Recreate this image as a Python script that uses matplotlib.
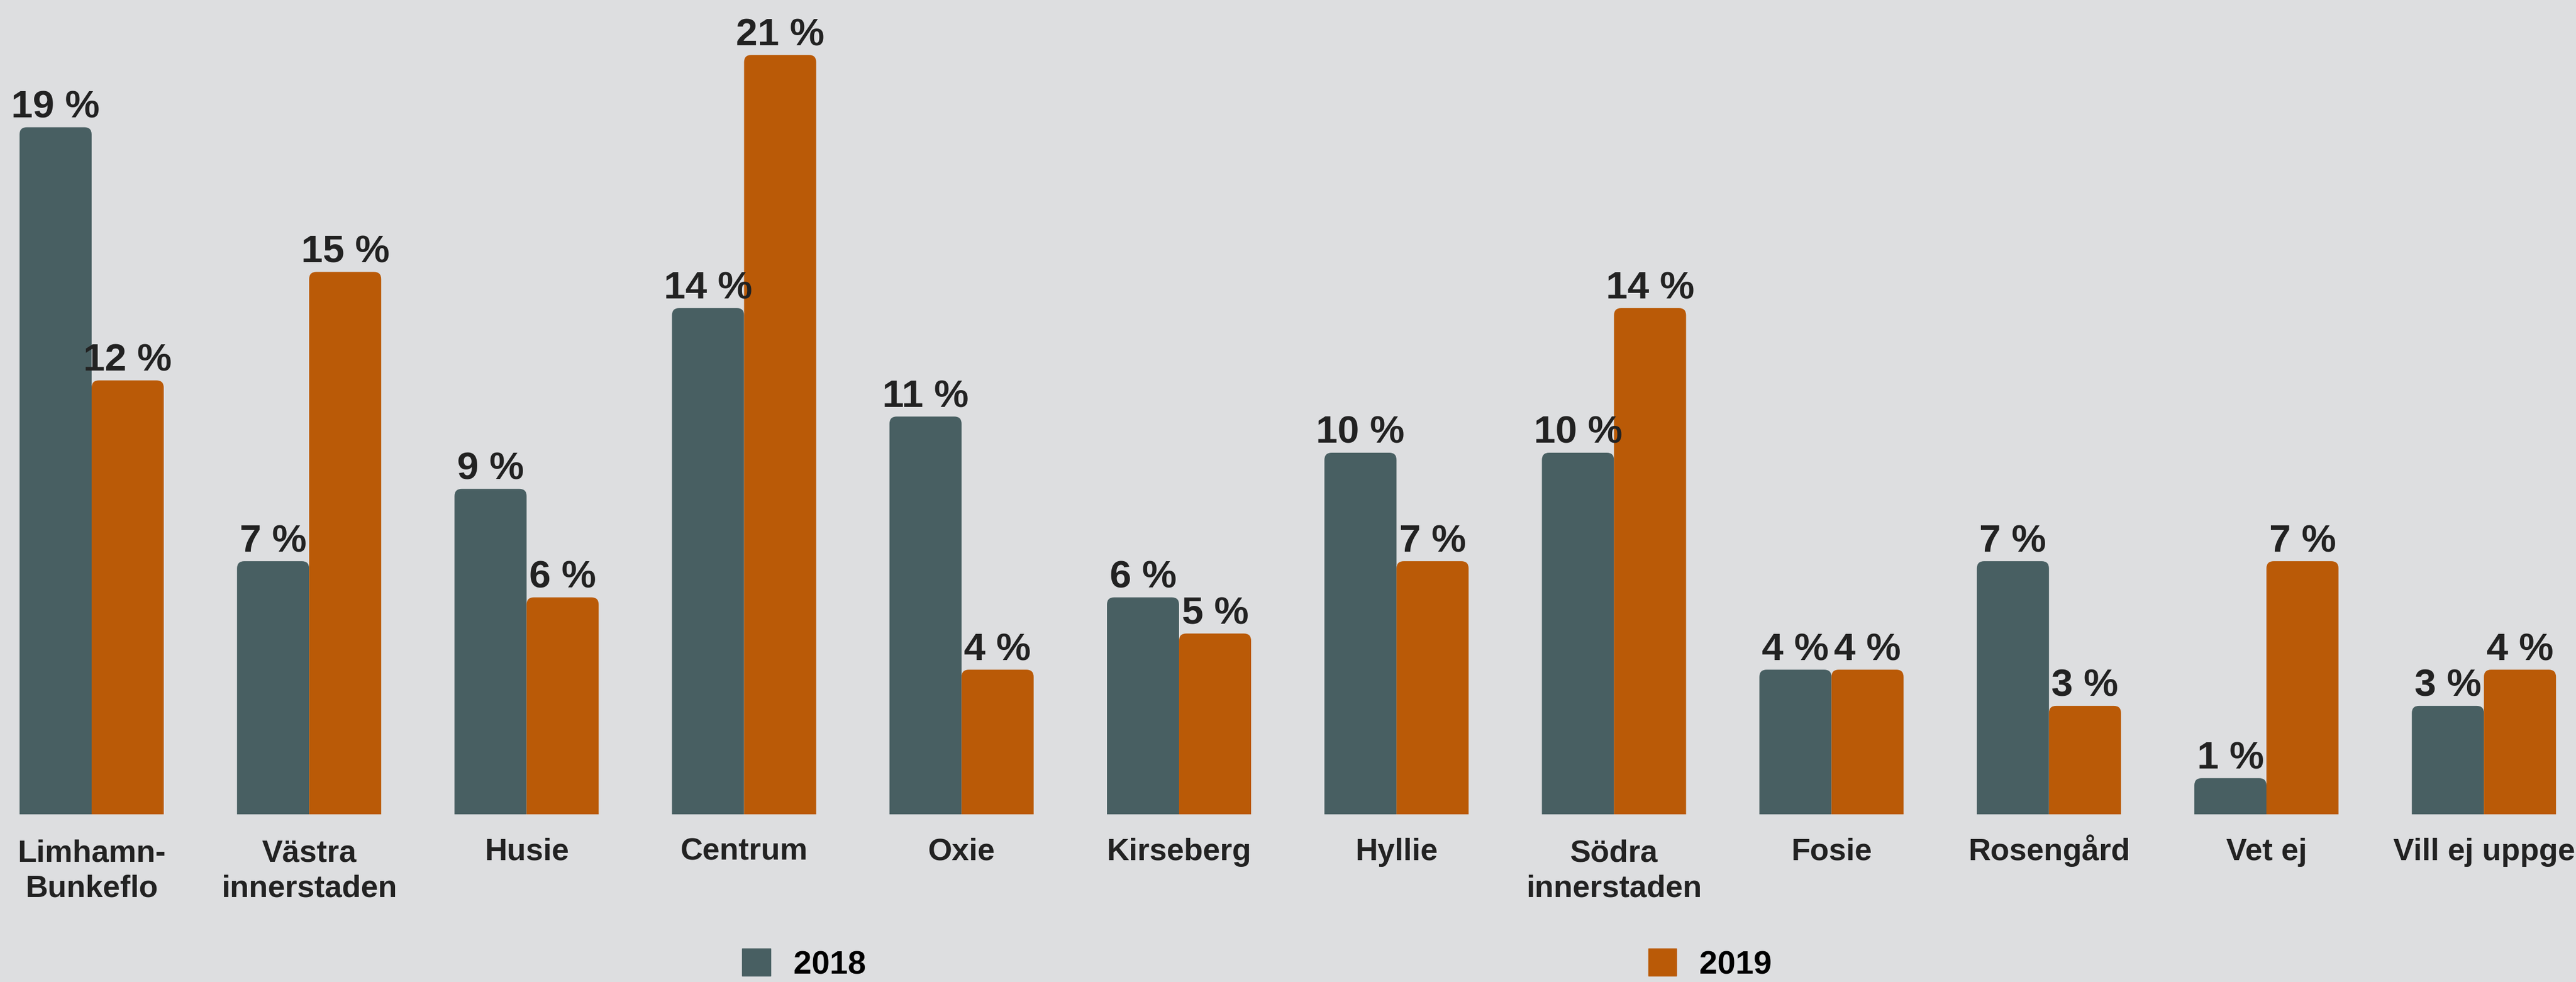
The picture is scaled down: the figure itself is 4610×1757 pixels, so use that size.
import matplotlib.pyplot as plt
import numpy as np
from matplotlib.path import Path
from matplotlib.patches import PathPatch, Patch

# Data
areas = ['Limhamn-\nBunkeflo', 'Västra\ninnerstaden', 'Husie', 'Centrum', 'Oxie',
         'Kirseberg', 'Hyllie', 'Södra\ninnerstaden', 'Fosie', 'Rosengård',
         'Vet ej', 'Vill ej uppge']
share_2018 = [19, 7, 9, 14, 11, 6, 10, 10, 4, 7, 1, 3]
share_2019 = [12, 15, 6, 21, 4, 5, 7, 14, 4, 3, 7, 4]
years = ['2018', '2019']

bg = '#dddee0'
c2018 = '#485f62'
c2019 = '#ba5a07'
txt = '#222222'

plt.rcParams['font.family'] = ['Liberation Sans', 'DejaVu Sans']

fig = plt.figure(figsize=(46.1, 17.58), dpi=100, facecolor=bg)
ax = fig.add_axes([0, 300 / 1758, 1, 1458 / 1758])
ax.set_facecolor(bg)

pitch = 389.2          # px per category
px_per_pct = 64.7      # px per percent
w = 129 / pitch
x = np.arange(len(areas))

b1 = ax.bar(x - w / 2, share_2018, w, color=c2018)
b2 = ax.bar(x + w / 2, share_2019, w, color=c2019)

xmin = -w - 35 / pitch
ax.set_xlim(xmin, xmin + 4610 / pitch)
ax.set_ylim(0, 1458 / px_per_pct)


def rounded_top(rect, color, r_px=13):
    rx = r_px / pitch
    ry = r_px / px_per_pct
    x0, y0 = rect.get_x(), rect.get_y()
    x1, y1 = x0 + rect.get_width(), y0 + rect.get_height()
    ry = min(ry, rect.get_height() / 2)
    verts = [(x0, y0), (x0, y1 - ry), (x0, y1), (x0 + rx, y1), (x1 - rx, y1),
             (x1, y1), (x1, y1 - ry), (x1, y0), (x0, y0)]
    codes = [Path.MOVETO, Path.LINETO, Path.CURVE3, Path.CURVE3, Path.LINETO,
             Path.CURVE3, Path.CURVE3, Path.LINETO, Path.CLOSEPOLY]
    ax.add_patch(PathPatch(Path(verts, codes), facecolor=color, edgecolor='none'))
    rect.set_visible(False)


for bars, col, vals in [(b1, c2018, share_2018), (b2, c2019, share_2019)]:
    for rect, v in zip(bars, vals):
        rounded_top(rect, col)
        ax.annotate(f'{v} %', (rect.get_x() + rect.get_width() / 2, v),
                    xytext=(0, 13), textcoords='offset points', ha='center',
                    va='baseline', fontsize=50, fontweight='bold', color=txt)

# category labels: first-line baseline ~81 px below the axis, lines 66 px apart
for xi, name in zip(x, areas):
    n_extra = name.count('\n')
    dy_px = -81 - 66 * n_extra
    ax.annotate(name, (xi, 0), xytext=(0, dy_px * 0.72), textcoords='offset points',
                ha='center', va='baseline', multialignment='center',
                fontsize=40, fontweight='bold', color=txt, linespacing=1.29,
                annotation_clip=False)

ax.set_xticks([])
ax.set_yticks([])
for s in ax.spines.values():
    s.set_visible(False)

handles = [Patch(color=c2018), Patch(color=c2019)]
fig.legend(handles, years, loc='center', bbox_to_anchor=(0.488, 0.018), ncol=2,
           frameon=False, prop={'size': 42, 'weight': 'bold'},
           handlelength=0.86, handleheight=0.91, handletextpad=0.71,
           columnspacing=24, borderpad=0)

fig.savefig('out.png', dpi=100, facecolor=bg)
